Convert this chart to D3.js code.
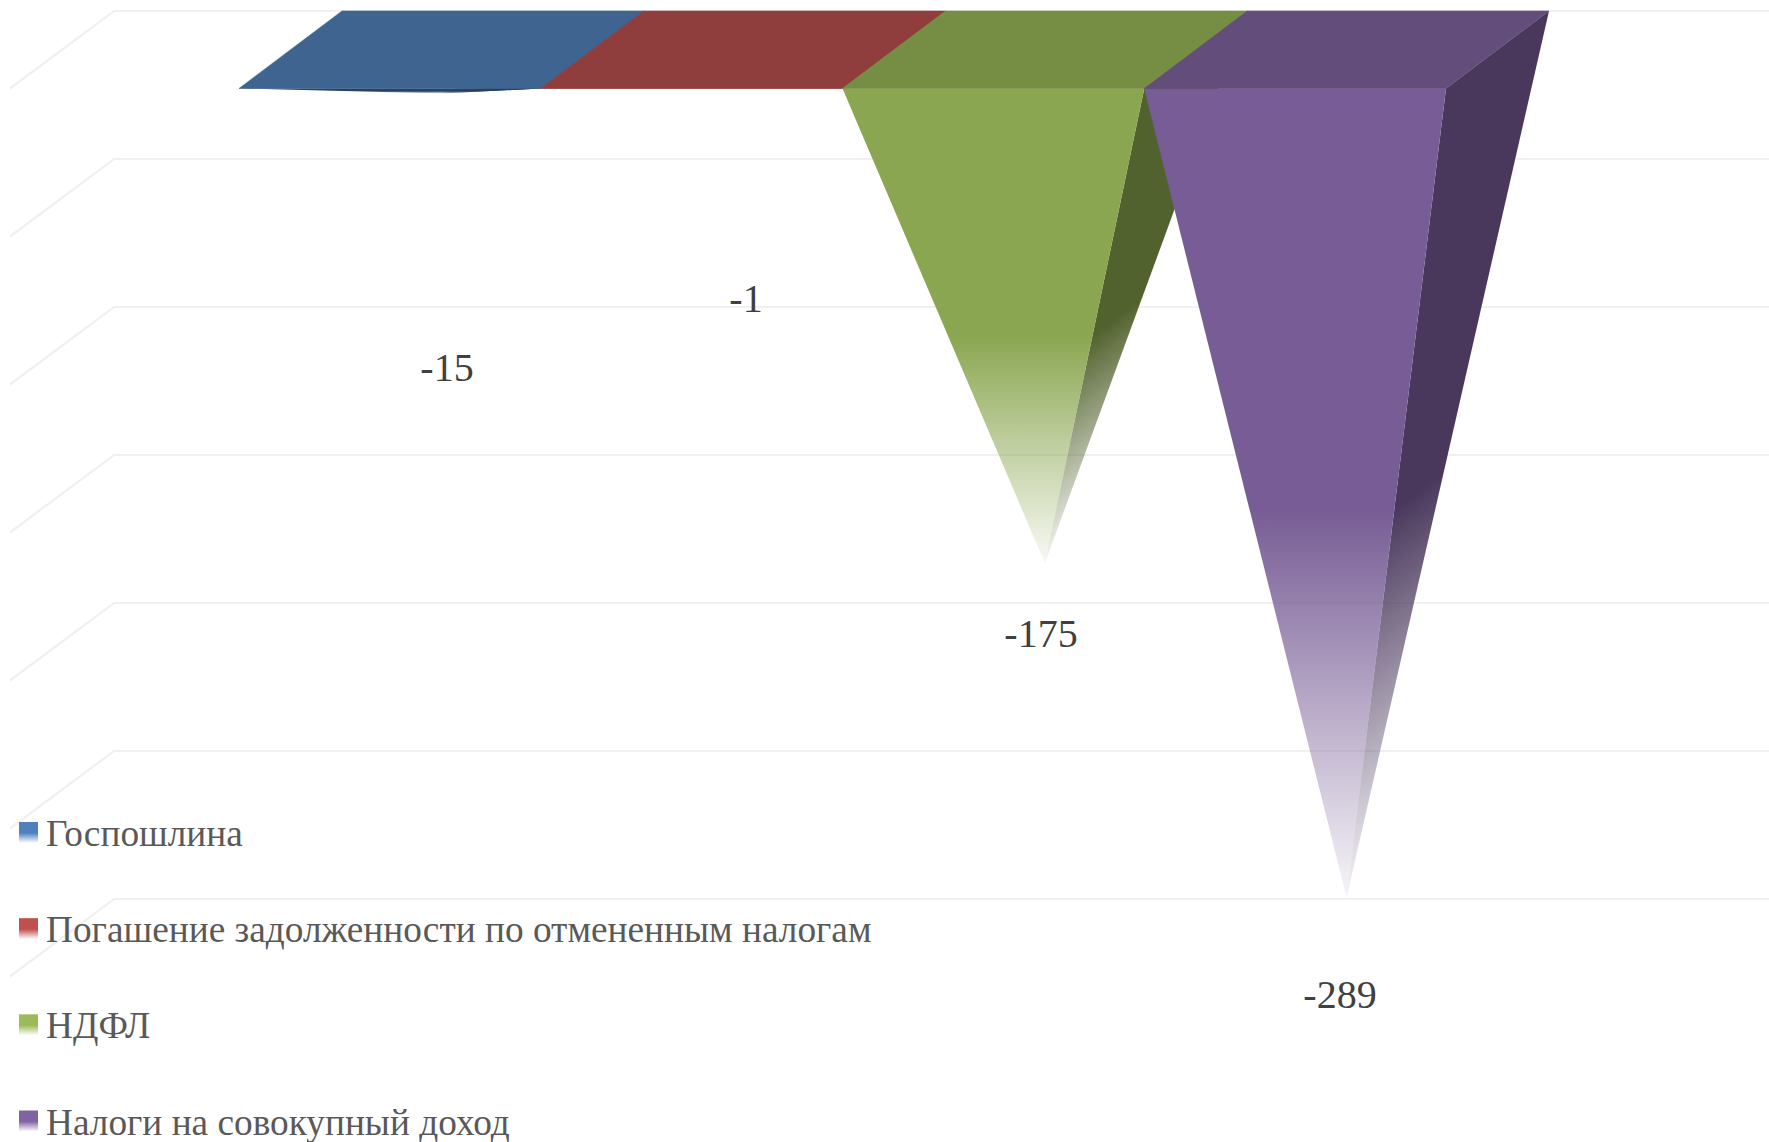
<!DOCTYPE html>
<html>
<head>
<meta charset="utf-8">
<script src="https://cdn.jsdelivr.net/npm/d3@7"></script>
<style>
	html, body { margin: 0; padding: 0; background: #fff; overflow: hidden; }
	text { font-family: "Liberation Serif", serif; }
</style>
</head>
<body>
<svg id="chart" width="1769" height="1142"></svg>
<script>
var categories = [ 'Госпошлина', 'Погашение задолженности по отмененным налогам', 'НДФЛ', 'Налоги на совокупный доход' ];
var values     = [ -15, -1, -175, -289 ];
var ticks      = [ 0, -50, -100, -150, -200, -250, -300 ];

var colorFront = [ '#274263', '#c0504d', '#8aa650', '#775c95' ];
var colorTop   = [ '#3e648f', '#8f3d3d', '#768e44', '#624d7b' ];
var colorSide  = [ '#1f3550', '#6a2e2d', '#52622e', '#49385c' ];
var colorKey   = [ '#4f81bd', '#c0504d', '#9bbb59', '#8064a2' ];

var W       = 1769;
var H       = 1142;
var depth   = { x: 103, y: -77.5 }; // floor depth, front -> back
var front   = 88.5;                 // y of the zero plane, front edge
var wallX   = 114;                  // where back wall meets left wall
var fadeAt  = 0.52;                 // gradient stays solid up to here
var fadeEnd = 0.06;                 // what is left of it at the tip

var svg  = d3.select( '#chart' );
var defs = svg.append( 'defs' );

var xBand = d3.scaleBand().domain( categories ).range( [ 239, 1446 ] ).padding( 0 );
var yWall = d3.scaleLinear().domain( [ 0, -300 ] ).range( [ 11, 899 ] );   // back wall
var yTip  = d3.scaleLinear().domain( [ 0, -300 ] ).range( [ 49.5, 930 ] ); // middle of the depth
var line  = d3.line();

// grid: back wall + left wall
ticks.forEach( t => {
	svg.append( 'path' )
		.attr( 'd', line( [
			  [ wallX - 104, yWall( t ) - depth.y ]
			, [ wallX, yWall( t ) ]
			, [ W, yWall( t ) ]
		] ) )
		.attr( 'fill', 'none' )
		.attr( 'stroke', '#f0f0f0' )
		.attr( 'stroke-width', 2.2 );
} );

function fadeGradient( id, color, a, b, tip ) { // solid at edge a-b, almost gone at tip
	var dx  = b[ 0 ] - a[ 0 ];
	var dy  = b[ 1 ] - a[ 1 ];
	var len = Math.hypot( dx, dy );
	var nx  = -dy / len;
	var ny  = dx / len;
	var d   = ( tip[ 0 ] - a[ 0 ] ) * nx + ( tip[ 1 ] - a[ 1 ] ) * ny;
	var g   = defs.append( 'linearGradient' )
		.attr( 'id', id )
		.attr( 'gradientUnits', 'userSpaceOnUse' )
		.attr( 'x1', a[ 0 ] )
		.attr( 'y1', a[ 1 ] )
		.attr( 'x2', a[ 0 ] + nx * d )
		.attr( 'y2', a[ 1 ] + ny * d );
	g.append( 'stop' ).attr( 'offset', 0 ).attr( 'stop-color', color ).attr( 'stop-opacity', 1 );
	g.append( 'stop' ).attr( 'offset', fadeAt ).attr( 'stop-color', color ).attr( 'stop-opacity', 1 );
	g.append( 'stop' ).attr( 'offset', 1 ).attr( 'stop-color', color ).attr( 'stop-opacity', fadeEnd );
	return 'url(#' + id + ')';
}

// pyramids, left to right so each one covers the side of the previous
categories.forEach( ( cat, i ) => {
	var x0  = xBand( cat );
	var x1  = x0 + xBand.bandwidth();
	var fl  = [ x0, front ];
	var fr  = [ x1, front ];
	var bl  = [ x0 + depth.x, front + depth.y ];
	var br  = [ x1 + depth.x, front + depth.y ];
	var tip = [ ( x0 + x1 + depth.x ) / 2, yTip( values[ i ] ) ];

	svg.append( 'path' )
		.attr( 'd', line( [ fr, br, tip ] ) + 'Z' )
		.attr( 'fill', fadeGradient( 'side' + i, colorSide[ i ], br, fr, tip ) );
	svg.append( 'path' )
		.attr( 'd', line( [ fl, fr, tip ] ) + 'Z' )
		.attr( 'fill', fadeGradient( 'front' + i, colorFront[ i ], fr, fl, tip ) );
	svg.append( 'path' )
		.attr( 'd', line( [ fl, fr, br, bl ] ) + 'Z' )
		.attr( 'fill', colorTop[ i ] )
		.attr( 'stroke', colorTop[ i ] )
		.attr( 'stroke-width', 0.6 ); // hides the seam over the neighbour's side
} );

// data labels
var labelX = [ 447, 746, 1041, 1340 ];
var labelY = [ 381, 312, 647, 1008 ];
svg.selectAll( 'text.value' )
	.data( values )
	.join( 'text' )
	.attr( 'class', 'value' )
	.attr( 'x', ( d, i ) => labelX[ i ] )
	.attr( 'y', ( d, i ) => labelY[ i ] )
	.attr( 'text-anchor', 'middle' )
	.attr( 'font-size', 40 )
	.attr( 'fill', '#404040' )
	.text( d => d );

// legend
var keyGrad = defs.selectAll( 'linearGradient.key' )
	.data( colorKey )
	.join( 'linearGradient' )
	.attr( 'class', 'key' )
	.attr( 'id', ( d, i ) => 'key' + i )
	.attr( 'x1', 0 ).attr( 'y1', 0 ).attr( 'x2', 0 ).attr( 'y2', 1 );
keyGrad.append( 'stop' ).attr( 'offset', 0 ).attr( 'stop-color', d => d );
keyGrad.append( 'stop' ).attr( 'offset', fadeAt ).attr( 'stop-color', d => d );
keyGrad.append( 'stop' ).attr( 'offset', 1 ).attr( 'stop-color', d => d ).attr( 'stop-opacity', 0 );

var yKey = d3.scalePoint().domain( categories ).range( [ 846, 1134.5 ] );
svg.selectAll( 'rect.key' )
	.data( categories )
	.join( 'rect' )
	.attr( 'class', 'key' )
	.attr( 'x', 19 )
	.attr( 'y', d => yKey( d ) - 24 )
	.attr( 'width', 19 )
	.attr( 'height', 21 )
	.attr( 'fill', ( d, i ) => 'url(#key' + i + ')' );
svg.selectAll( 'text.key' )
	.data( categories )
	.join( 'text' )
	.attr( 'class', 'key' )
	.attr( 'x', 46 )
	.attr( 'y', d => yKey( d ) )
	.attr( 'font-size', 37.3 )
	.attr( 'fill', '#595959' )
	.text( d => d );
</script>
</body>
</html>
